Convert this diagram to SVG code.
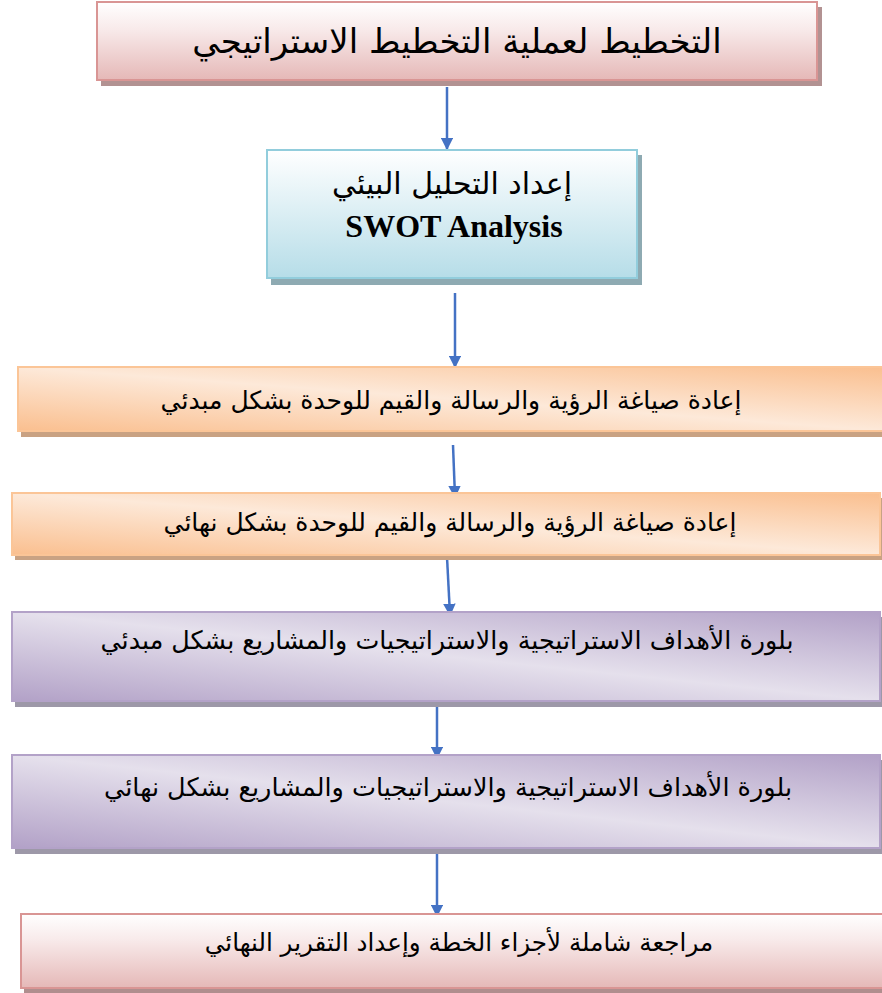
<svg xmlns="http://www.w3.org/2000/svg" width="882" height="993" viewBox="0 0 882 993">
<defs>
<linearGradient id="gPink" x1="0" y1="0" x2="0" y2="1">
<stop offset="0" stop-color="#ffffff"/><stop offset="0.35" stop-color="#f8eaea"/><stop offset="1" stop-color="#e5b8b7"/>
</linearGradient>
<linearGradient id="gBlue" x1="0" y1="0" x2="0" y2="1">
<stop offset="0" stop-color="#ffffff"/><stop offset="1" stop-color="#b6dde8"/>
</linearGradient>
<linearGradient id="gOrange" x1="0" y1="1" x2="1" y2="0">
<stop offset="0" stop-color="#fabf8f"/><stop offset="0.5" stop-color="#fde9d9"/><stop offset="1" stop-color="#fabf8f"/>
</linearGradient>
<linearGradient id="gPurple" x1="0" y1="1" x2="1" y2="0">
<stop offset="0" stop-color="#b2a1c7"/><stop offset="0.5" stop-color="#e5e0ec"/><stop offset="1" stop-color="#b2a1c7"/>
</linearGradient>
<marker id="arr" viewBox="0 0 10 10" refX="9" refY="5" markerWidth="5" markerHeight="5" orient="auto" markerUnits="strokeWidth">
<path d="M0,0 L10,5 L0,10 z" fill="#4472c4"/>
</marker>
</defs>
<style>
.ar{font-family:"DejaVu Sans","Noto Sans",sans-serif;fill:#000;text-anchor:middle}
.en{font-family:"Liberation Serif",serif;font-weight:bold;fill:#000;text-anchor:middle}
.pk{fill:url(#gPink);stroke:#d99594;stroke-width:2}
.bl{fill:url(#gBlue);stroke:#92cddc;stroke-width:2}
.or{fill:url(#gOrange);stroke:#fbc597;stroke-width:2}
.pu{fill:url(#gPurple);stroke:#b3a2c8;stroke-width:2}
.conn{stroke:#4472c4;stroke-width:2.5;fill:none;marker-end:url(#arr)}
</style>
<g id="connectors">
<line class="conn" x1="447" y1="87" x2="447" y2="149"/>
<line class="conn" x1="455" y1="293" x2="455" y2="367"/>
<line class="conn" x1="453" y1="445" x2="455" y2="497"/>
<line class="conn" x1="447" y1="557" x2="450" y2="615"/>
<line class="conn" x1="437" y1="705" x2="437" y2="758"/>
<line class="conn" x1="437" y1="848" x2="437" y2="916"/>
</g>
<g id="node1">
<rect x="101" y="7" width="721" height="79" fill="#b29292"/>
<rect class="pk" x="97" y="2" width="720" height="78"/>
<text class="ar" x="457" y="53" font-size="34" direction="rtl">التخطيط لعملية التخطيط الاستراتيجي</text>
</g>
<g id="node2">
<rect x="271" y="155" width="371" height="130" fill="#8eaab2"/>
<rect class="bl" x="267" y="150" width="370" height="128"/>
<text class="ar" x="452" y="194" font-size="30" direction="rtl">إعداد التحليل البيئي</text>
<text class="en" x="454" y="237" font-size="32">SWOT Analysis</text>
</g>
<g id="node3">
<rect x="21" y="372" width="870" height="65" fill="#c9a283"/>
<rect class="or" x="18" y="367" width="870" height="64"/>
<text class="ar" x="451" y="409" font-size="25" direction="rtl">إعادة صياغة الرؤية والرسالة والقيم للوحدة بشكل مبدئي</text>
</g>
<g id="node4">
<rect x="15" y="498" width="870" height="62" fill="#c9a283"/>
<rect class="or" x="12" y="493" width="868" height="62"/>
<text class="ar" x="450" y="531" font-size="25" direction="rtl">إعادة صياغة الرؤية والرسالة والقيم للوحدة بشكل نهائي</text>
</g>
<g id="node5">
<rect x="15" y="617" width="870" height="90" fill="#9d98a8"/>
<rect class="pu" x="12" y="612" width="868" height="89"/>
<text class="ar" x="447" y="649" font-size="25.4" direction="rtl">بلورة الأهداف الاستراتيجية والاستراتيجيات والمشاريع بشكل مبدئي</text>
</g>
<g id="node6">
<rect x="15" y="760" width="870" height="94" fill="#9d98a8"/>
<rect class="pu" x="12" y="755" width="868" height="93"/>
<text class="ar" x="448" y="796" font-size="25.5" direction="rtl">بلورة الأهداف الاستراتيجية والاستراتيجيات والمشاريع بشكل نهائي</text>
</g>
<g id="node7">
<rect x="24" y="918" width="870" height="75" fill="#b08e8e"/>
<rect class="pk" x="21" y="914" width="870" height="74"/>
<text class="ar" x="459" y="951" font-size="24.6" direction="rtl">مراجعة شاملة لأجزاء الخطة وإعداد التقرير النهائي</text>
</g>
</svg>
